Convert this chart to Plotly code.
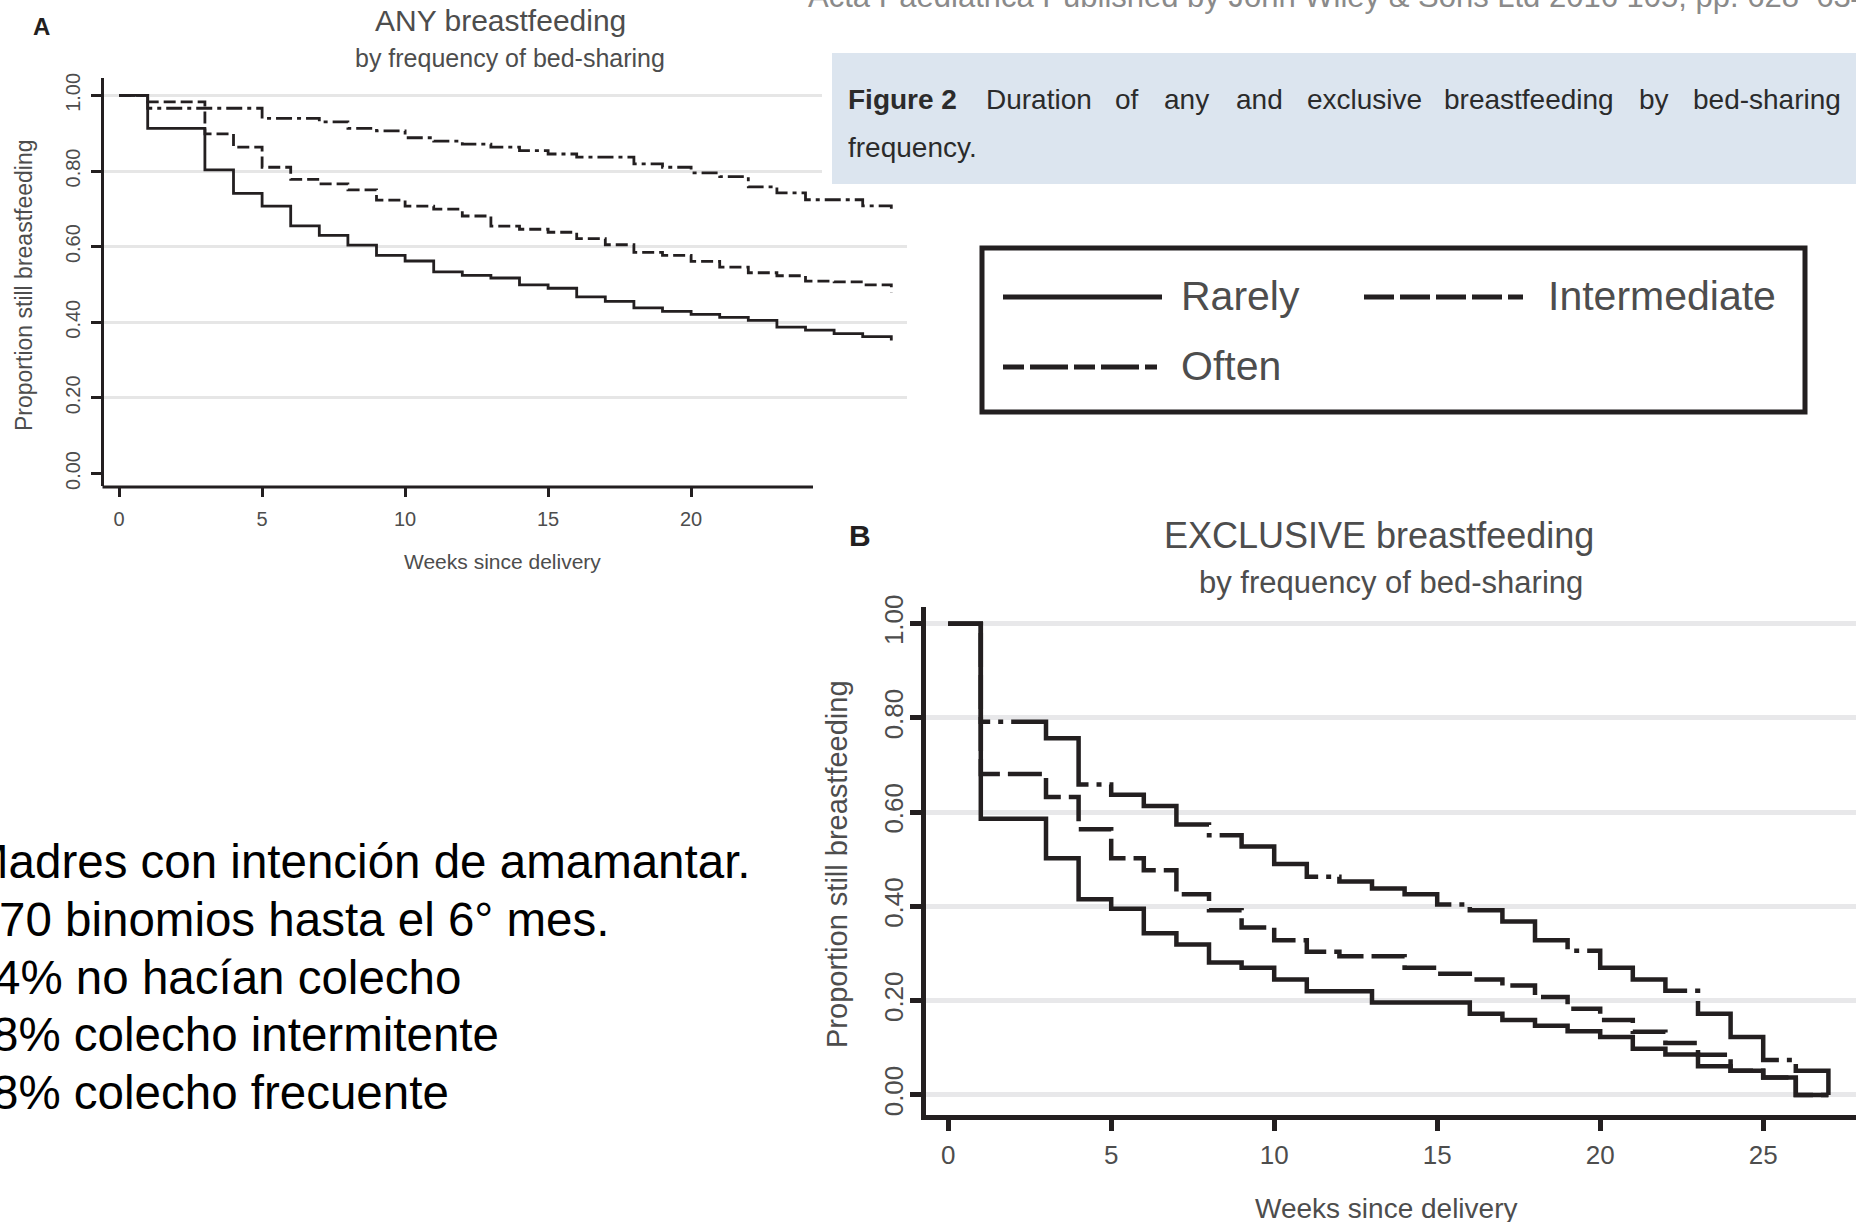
import plotly.graph_objects as go

W, H = 1856, 1222

# ---------------- data ----------------
# Panel A: ANY breastfeeding – week of each step and proportion after the step
a_rarely_weeks = [0, 1, 3, 4, 5, 6, 7, 8, 9, 10, 11, 12, 13, 14, 15, 16, 17, 18, 19, 20, 21, 22, 23, 24, 25, 26, 27]
a_rarely_prop = [1.0, 0.913, 0.803, 0.741, 0.707, 0.655, 0.630, 0.604, 0.577, 0.562, 0.533, 0.524, 0.517, 0.499,
                 0.490, 0.467, 0.455, 0.438, 0.429, 0.421, 0.413, 0.405, 0.387, 0.379, 0.370, 0.362, 0.352]
a_inter_weeks = [0, 1, 3, 4, 5, 6, 7, 8, 9, 10, 11, 12, 13, 14, 15, 16, 17, 18, 19, 20, 21, 22, 23, 24, 25, 26, 27]
a_inter_prop = [1.0, 0.983, 0.898, 0.863, 0.810, 0.778, 0.766, 0.750, 0.723, 0.707, 0.699, 0.681, 0.654, 0.646,
                0.638, 0.621, 0.605, 0.585, 0.577, 0.561, 0.546, 0.531, 0.523, 0.509, 0.507, 0.499, 0.479]
a_often_weeks = [0, 1, 5, 7, 8, 9, 10, 11, 12, 13, 14, 15, 16, 18, 19, 20, 21, 22, 23, 24, 26, 27]
a_often_prop = [1.0, 0.966, 0.939, 0.930, 0.913, 0.906, 0.888, 0.879, 0.871, 0.863, 0.854, 0.845, 0.837,
                0.819, 0.810, 0.795, 0.785, 0.758, 0.742, 0.724, 0.708, 0.700]

# Panel B: EXCLUSIVE breastfeeding
b_rarely_weeks = [0, 1, 3, 4, 5, 6, 7, 8, 9, 10, 11, 13, 16, 17, 18, 19, 20, 21, 22, 23, 24, 25, 26, 27]
b_rarely_prop = [1.0, 0.586, 0.502, 0.415, 0.395, 0.343, 0.319, 0.281, 0.270, 0.245, 0.220, 0.196, 0.172,
                 0.159, 0.147, 0.135, 0.123, 0.098, 0.086, 0.061, 0.051, 0.037, 0.0, 0.0]
b_inter_weeks = [0, 1, 3, 4, 5, 6, 7, 8, 9, 10, 11, 12, 14, 15, 16, 17, 18, 19, 20, 21, 22, 23, 24, 25, 26, 27]
b_inter_prop = [1.0, 0.681, 0.632, 0.564, 0.502, 0.477, 0.426, 0.392, 0.355, 0.328, 0.304, 0.294, 0.270,
                0.257, 0.245, 0.232, 0.208, 0.183, 0.159, 0.134, 0.110, 0.085, 0.051, 0.037, 0.0, 0.0]
b_often_weeks = [0, 1, 3, 4, 5, 6, 7, 8, 9, 10, 11, 12, 13, 14, 15, 16, 17, 18, 19, 20, 21, 22, 23, 24, 25, 26, 27]
b_often_prop = [1.0, 0.792, 0.757, 0.659, 0.637, 0.613, 0.574, 0.551, 0.527, 0.490, 0.463, 0.453, 0.438,
                0.426, 0.404, 0.392, 0.368, 0.328, 0.306, 0.270, 0.245, 0.221, 0.172, 0.123, 0.074, 0.051, 0.0]

series_names = ["Rarely", "Intermediate", "Often"]
y_tickvals = [0.0, 0.2, 0.4, 0.6, 0.8, 1.0]
y_ticktext = ["0.00", "0.20", "0.40", "0.60", "0.80", "1.00"]
a_x_tickvals = [0, 5, 10, 15, 20]
b_x_tickvals = [0, 5, 10, 15, 20, 25]

caption_words = [("<b>Figure 2</b>", 846), ("Duration", 984), ("of", 1113), ("any", 1162), ("and", 1234),
                 ("exclusive", 1305), ("breastfeeding", 1442), ("by", 1637), ("bed-sharing", 1691)]
spanish_lines = [("Madres con intención de amamantar.", -33),
                 ("70 binomios hasta el 6° mes.", -3),
                 ("4% no hacían colecho", -8),
                 ("8% colecho intermitente", -10),
                 ("8% colecho frecuente", -10)]

# ---------------- helpers ----------------
def px(x):
    return x / W


def py(y):
    return 1 - y / H


INK = "#231f20"
GREY_TXT = "#4d4d4d"
SANS = "Liberation Sans, Arial, Helvetica, sans-serif"

fig = go.Figure()

# Panel A curves
a_styles = {"Rarely": "solid", "Intermediate": "12px,5px", "Often": "16px,5px,4px,5px"}
for name, xs, ys in [("Rarely", a_rarely_weeks, a_rarely_prop),
                     ("Intermediate", a_inter_weeks, a_inter_prop),
                     ("Often", a_often_weeks, a_often_prop)]:
    fig.add_trace(go.Scatter(x=xs, y=ys, mode="lines", name=name, showlegend=False,
                             line=dict(shape="hv", color=INK, width=2.8, dash=a_styles[name]),
                             xaxis="x", yaxis="y", hoverinfo="skip"))
# empty trace to hold the grid axis of panel A
fig.add_trace(go.Scatter(x=[], y=[], xaxis="x", yaxis="y3", showlegend=False))

# Panel B curves
b_styles = {"Rarely": "solid", "Intermediate": "34px,8px", "Often": "140px,8px,5px,8px"}
for name, xs, ys in [("Rarely", b_rarely_weeks, b_rarely_prop),
                     ("Intermediate", b_inter_weeks, b_inter_prop),
                     ("Often", b_often_weeks, b_often_prop)]:
    fig.add_trace(go.Scatter(x=xs, y=ys, mode="lines", name=name, showlegend=False,
                             line=dict(shape="hv", color=INK, width=4.5, dash=b_styles[name]),
                             xaxis="x2", yaxis="y2", hoverinfo="skip"))

# ---------------- axes ----------------
# Panel A geometry: x(0)=119.1px, 28.6 px/week ; y(1)=95.4px, y(0)=473.5px
ax_l, ax_r, ax_t, ax_b = 104, 907, 78, 486
a_xr = [(ax_l - 119.1) / 28.6, (ax_r - 119.1) / 28.6]
a_yr = [(473.5 - ax_b) / 378.1, (473.5 - ax_t) / 378.1]

# Panel B geometry: x(0)=948.2px, 32.6 px/week ; y(1)=623.7, y(0)=1094.9
bx_l, bx_r, by_t, by_b = 926, 1856, 607, 1115
b_xr = [(bx_l - 948.2) / 32.6, (bx_r - 948.2) / 32.6]
b_yr = [(1094.9 - by_b) / 471.2, (1094.9 - by_t) / 471.2]

fig.update_layout(
    width=W, height=H, autosize=False,
    margin=dict(l=0, r=0, t=0, b=0, pad=0, autoexpand=False),
    paper_bgcolor="white", plot_bgcolor="rgba(0,0,0,0)",
    showlegend=False,
    xaxis=dict(domain=[px(ax_l), px(ax_r)], range=a_xr, anchor="y",
               tickvals=a_x_tickvals, ticks="outside", ticklen=10, tickwidth=3, tickcolor=INK,
               showline=False, showgrid=False, zeroline=False,
               tickfont=dict(family=SANS, size=20, color=GREY_TXT), ticklabelstandoff=5),
    yaxis=dict(domain=[py(ax_b), py(ax_t)], range=a_yr, anchor="x",
               tickvals=y_tickvals, ticktext=y_ticktext, ticks="outside", ticklen=10, tickwidth=3,
               tickcolor=INK, showline=True, linewidth=3, linecolor=INK,
               showgrid=False, zeroline=False, tickangle=-90,
               tickfont=dict(family=SANS, size=20, color=GREY_TXT), ticklabelstandoff=3),
    yaxis3=dict(overlaying="y", anchor="x", range=a_yr, tickvals=y_tickvals[1:],
                showgrid=True, gridcolor="#e6e6e6", gridwidth=3, showticklabels=False,
                ticks="", showline=False, zeroline=False),
    xaxis2=dict(domain=[px(bx_l), px(bx_r)], range=b_xr, anchor="y2",
                tickvals=b_x_tickvals, ticks="outside", ticklen=11, tickwidth=4.5, tickcolor=INK,
                showline=True, linewidth=4.5, linecolor=INK, showgrid=False, zeroline=False,
                tickfont=dict(family=SANS, size=26, color=GREY_TXT), ticklabelstandoff=2),
    yaxis2=dict(domain=[py(by_b), py(by_t)], range=b_yr, anchor="x2",
                tickvals=y_tickvals, ticktext=y_ticktext, ticks="outside", ticklen=11, tickwidth=4.5,
                tickcolor=INK, showline=True, linewidth=4.5, linecolor=INK,
                showgrid=True, gridcolor="#e8e8ea", gridwidth=4.5, zeroline=False, tickangle=-90,
                tickfont=dict(family=SANS, size=26, color=GREY_TXT), ticklabelstandoff=-3),
)

shapes = []
# x axis line of panel A (stops before the curves end)
shapes.append(dict(type="line", xref="paper", yref="paper", x0=px(ax_l - 1.5), x1=px(813), y0=py(ax_b + 1),
                   y1=py(ax_b + 1), line=dict(color=INK, width=3)))
# white margin and caption box
shapes.append(dict(type="rect", xref="paper", yref="paper", x0=px(822), x1=px(832), y0=py(190), y1=py(48),
                   fillcolor="white", line=dict(width=0), layer="above"))
shapes.append(dict(type="rect", xref="paper", yref="paper", x0=px(832), x1=px(1856), y0=py(184), y1=py(53),
                   fillcolor="#dce5ef", line=dict(width=0), layer="above"))
# legend box
shapes.append(dict(type="rect", xref="paper", yref="paper", x0=px(982), x1=px(1805), y0=py(412), y1=py(248),
                   fillcolor="white", line=dict(color=INK, width=5), layer="above"))
legend_rows = [("Rarely", 1003, 1162, 297, "solid", 1179),
               ("Intermediate", 1364, 1523, 297, "30px,6px", 1546),
               ("Often", 1003, 1157, 367, "21px,6px,38px,6px", 1179)]
for name, x0, x1, yy, dash, tx in legend_rows:
    shapes.append(dict(type="line", xref="paper", yref="paper", x0=px(x0), x1=px(x1), y0=py(yy), y1=py(yy),
                       line=dict(color=INK, width=5, dash=dash), layer="above"))
fig.update_layout(shapes=shapes)

ann = []


def text(s, x, y, size, color=GREY_TXT, family=SANS, xanchor="center", angle=0):
    ann.append(dict(text=s, x=px(x), y=py(y), xref="paper", yref="paper", showarrow=False,
                    xanchor=xanchor, yanchor="middle", textangle=angle,
                    font=dict(family=family, size=size, color=color)))


# top (cut-off) running header
text("Acta Paediatrica Published by John Wiley &amp; Sons Ltd 2016 105, pp. 628–634", 806, -4, 31,
     color="#8a8a8a", xanchor="left")
# panel A labels
text("<b>A</b>", 41, 26, 24, color=INK)
text("ANY breastfeeding", 500, 20, 30)
text("by frequency of bed-sharing", 510, 58, 25)
text("Proportion still breastfeeding", 24, 285, 23, angle=-90)
text("Weeks since delivery", 502, 561, 21)
# panel B labels
text("<b>B</b>", 860, 535, 30, color=INK)
text("EXCLUSIVE breastfeeding", 1379, 535, 36)
text("by frequency of bed-sharing", 1391, 582, 31)
text("Proportion still breastfeeding", 837, 864, 29, angle=-90)
text("Weeks since delivery", 1386, 1208, 28)
# caption
for w, x in caption_words:
    text(w, x, 100, 28, color="#2b2b2b", xanchor="left")
text("frequency.", 846, 148, 28, color="#2b2b2b", xanchor="left")
# legend labels
for name, x0, x1, yy, dash, tx in legend_rows:
    text(name, tx, yy - 1, 41, color=GREY_TXT, xanchor="left")
# Spanish notes
for i, (s, x) in enumerate(spanish_lines):
    text(s, x, 862 + i * 57.5, 47.5, color="black", xanchor="left")

fig.update_layout(annotations=ann)

fig.write_html("out.html", config={"displayModeBar": False},
               post_script="document.body.style.margin='0px';")
